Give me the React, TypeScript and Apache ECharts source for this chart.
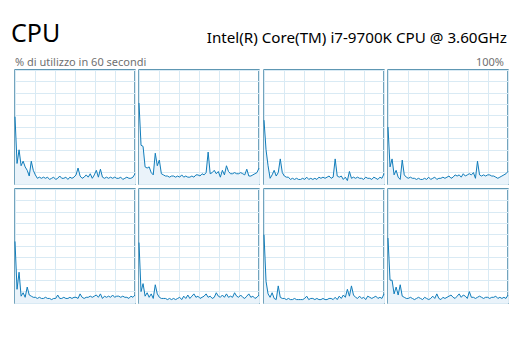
import React, { useEffect, useRef } from "react";
import * as echarts from "echarts";

const title = "CPU";
const cpuName = "Intel(R) Core(TM) i7-9700K CPU @ 3.60GHz";
const subLeft = "% di utilizzo in 60 secondi";
const subRight = "100%";

const core0 = [59,18,30,16,20,15,12,7,20,12,8,5,6,5,6,5,6,4,5,6,4,5,7,5,5,6,4,6,5,6,8,14,7,5,6,8,6,9,5,8,12,6,13,6,5,6,5,6,5,6,5,5,6,4,5,6,5,5,6,9];
const core1 = [71,34,33,15,14,15,10,8,27,16,21,9,8,7,7,6,7,7,6,7,6,8,6,7,6,6,7,6,8,8,7,9,8,10,28,9,10,12,9,11,6,12,8,16,11,9,9,10,9,9,10,9,8,13,7,7,8,9,10,14];
const core2 = [56,30,16,5,8,12,7,10,22,10,7,6,6,4,5,4,5,4,4,5,4,6,4,5,4,5,4,6,5,6,5,6,7,5,6,22,7,6,7,4,6,3,11,5,6,5,6,5,5,4,6,5,5,4,6,5,4,6,5,9];
const core3 = [50,15,22,8,12,6,4,21,8,6,5,6,5,5,4,5,4,4,5,4,6,4,5,6,4,5,5,6,5,6,7,5,6,8,7,8,6,9,7,8,9,8,10,5,20,8,7,8,7,8,8,7,7,6,5,6,7,8,9,11];
const core4 = [54,12,27,6,9,5,14,7,6,5,5,4,5,4,4,5,4,4,3,4,4,7,4,4,5,4,4,5,4,5,5,4,8,5,4,5,5,6,5,6,7,5,8,4,6,5,6,5,7,5,6,6,5,6,5,5,4,6,5,7];
const core5 = [53,10,17,6,9,5,8,4,16,8,5,4,4,4,3,4,3,4,3,4,5,3,6,4,7,4,6,8,5,6,4,5,6,8,5,6,4,5,9,6,5,7,5,8,5,6,5,9,6,5,7,5,4,6,8,5,6,4,5,7];
const core6 = [60,19,8,5,9,4,3,15,5,4,4,3,4,3,3,4,3,3,3,3,4,6,3,4,4,3,4,3,3,4,3,3,4,4,3,5,3,6,4,7,5,12,6,15,7,5,4,6,4,5,3,6,5,4,5,6,4,5,4,8];
const core7 = [57,20,20,8,14,7,16,6,5,4,4,5,4,3,4,5,4,3,5,4,3,4,6,4,8,4,3,5,4,5,6,7,5,4,6,8,5,7,6,4,10,5,5,4,5,6,5,4,5,5,4,5,5,6,4,5,4,5,4,7];

const cores = [core0, core1, core2, core3, core4, core5, core6, core7];

const LINE = "#117DBB";
const BORDER = "#2A759B";
const FILL = "#EAF3FA";
const GRIDLINE = "#D9EAF4";

export default function App() {
  const ref = useRef<HTMLDivElement>(null);
  useEffect(() => {
    if (!ref.current) return;
    const chart = echarts.init(ref.current, null, { renderer: "svg" });
    const colLeft = [15, 139, 264, 388];
    const rowTop = [70, 189];
    const grids: any[] = [];
    const xAxes: any[] = [];
    const yAxes: any[] = [];
    const series: any[] = [];
    cores.forEach((data, i) => {
      const r = Math.floor(i / 4);
      const c = i % 4;
      grids.push({
        left: colLeft[c],
        top: rowTop[r],
        width: 120,
        height: 114,
        show: true,
        borderColor: BORDER,
        borderWidth: 1.3,
        backgroundColor: "#ffffff",
      });
      xAxes.push({
        type: "value",
        gridIndex: i,
        min: 0,
        max: 60,
        interval: 10,
        axisLine: { show: false },
        axisTick: { show: false },
        axisLabel: { show: false },
        splitLine: { show: true, lineStyle: { color: GRIDLINE, width: 1 } },
      });
      yAxes.push({
        type: "value",
        gridIndex: i,
        min: 0,
        max: 100,
        interval: 10,
        axisLine: { show: false },
        axisTick: { show: false },
        axisLabel: { show: false },
        splitLine: { show: true, lineStyle: { color: GRIDLINE, width: 1 } },
      });
      const n = data.length;
      series.push({
        type: "line",
        xAxisIndex: i,
        yAxisIndex: i,
        data: data.map((v, k) => [(k * 60) / (n - 1), v]),
        showSymbol: false,
        lineStyle: { color: LINE, width: 1 },
        areaStyle: { color: FILL, opacity: 1 },
        silent: true,
        z: 3,
      });
    });
    chart.setOption({
      animation: false,
      backgroundColor: "#ffffff",
      grid: grids,
      xAxis: xAxes,
      yAxis: yAxes,
      series,
      graphic: [
        {
          type: "text",
          x: 11,
          y: 32,
          style: { text: title, fontSize: 25, fontFamily: "Noto Sans", fill: "#000000", align: "left", verticalAlign: "middle" },
        },
        {
          type: "text",
          x: 507,
          y: 37,
          style: { text: cpuName, fontSize: 15.2, fontFamily: "Noto Sans", fill: "#000000", align: "right", verticalAlign: "middle" },
        },
        {
          type: "text",
          x: 15,
          y: 61,
          style: { text: subLeft, fontSize: 11, fontFamily: "Noto Sans", fill: "#707070", align: "left", verticalAlign: "middle" },
        },
        {
          type: "text",
          x: 504,
          y: 61,
          style: { text: subRight, fontSize: 11, fontFamily: "Noto Sans", fill: "#707070", align: "right", verticalAlign: "middle" },
        },
      ],
    });
    return () => chart.dispose();
  }, []);
  return (
    <div
      ref={ref}
      style={{ position: "absolute", left: 0, top: 0, width: 528, height: 342 }}
    />
  );
}
